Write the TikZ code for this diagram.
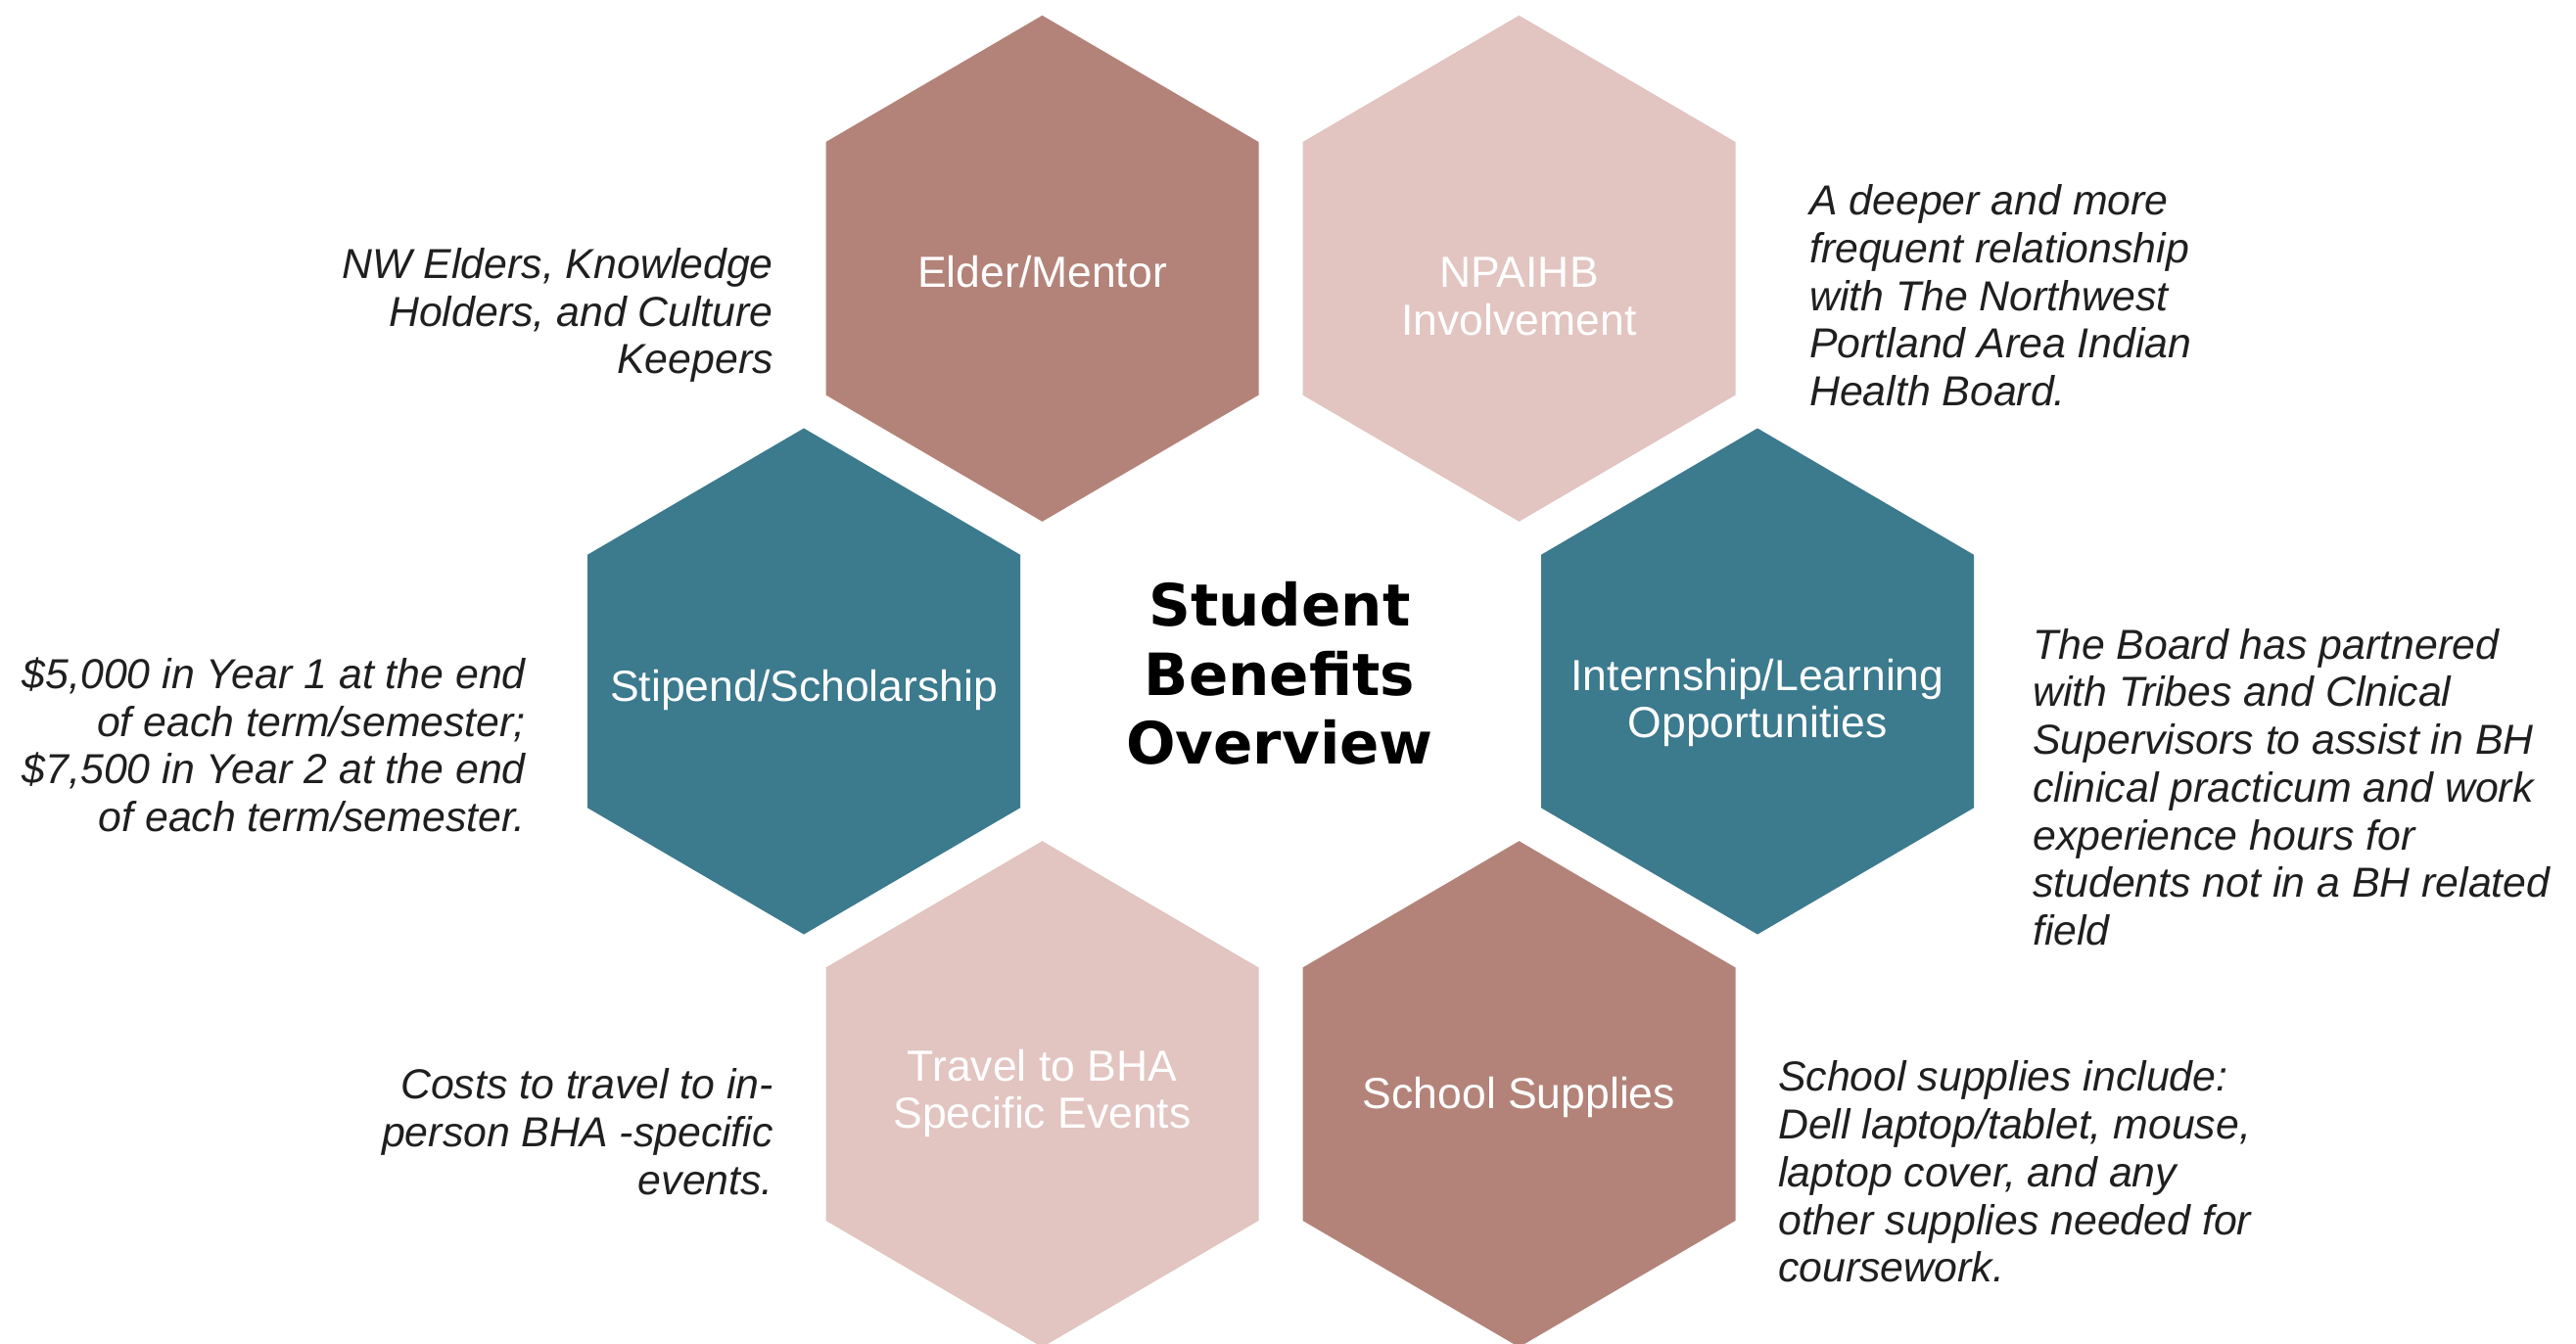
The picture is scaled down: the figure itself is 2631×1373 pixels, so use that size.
\documentclass[tikz,border=0pt]{standalone}
\usepackage{fontspec}
\setmainfont{Liberation Sans}
\newfontfamily\titlefont{DejaVu Sans}
\definecolor{hexrose}{HTML}{B38379}
\definecolor{hexblush}{HTML}{E2C4C1}
\definecolor{hexteal}{HTML}{3C7A8E}
\tikzset{
  hexlabel/.style={text=white, font=\fontsize{44.5}{48.7}\selectfont, align=center, inner sep=0pt},
  desc/.style={font=\fontsize{42.8}{48.7}\selectfont\itshape, inner sep=0pt, text=black!88},
  titletext/.style={font=\titlefont\bfseries\fontsize{59.5}{70.5}\selectfont, align=center, inner sep=0pt}
}
\begin{document}
\begin{tikzpicture}[x=1pt,y=-1pt]
\clip (0,0) rectangle (2631,1373);
\fill[white] (0,0) rectangle (2631,1373);
\foreach \cx/\cy/\col in {1064.5/274.3/hexrose, 1551.5/274.3/hexblush, 821/696/hexteal, 1795/696/hexteal, 1064.5/1117.7/hexblush, 1551.5/1117.7/hexrose}{
  \fill[\col, shift={(\cx,\cy)}] (0,-258.5) -- (-221,-129.25) -- (-221,129.25) -- (0,258.5) -- (221,129.25) -- (221,-129.25) -- cycle;
}
% hexagon labels
\node[hexlabel] (elder) at (1064.5,278) {Elder/Mentor};
\node[hexlabel] (npaihb) at (1551.5,303) {NPAIHB\\Involvement};
\node[hexlabel] (stipend) at (821,705) {Stipend/Scholarship};
\node[hexlabel] (intern) at (1795,718) {Internship/Learning\\Opportunities};
\node[hexlabel] (travel) at (1064.5,1117) {Travel to BHA\\Specific Events};
\node[hexlabel] (supplies) at (1551.5,1121) {School Supplies};
% title
\node[titletext] (title) at (1307,688) {Student\\Benefits\\Overview};
% descriptions
\node[desc, anchor=east, align=right] (elderdesc) at (790,322) {NW Elders, Knowledge\\Holders, and Culture\\Keepers};
\node[desc, anchor=west, align=left] (npaihbdesc) at (1848,302) {A deeper and more\\frequent relationship\\with The Northwest\\Portland Area Indian\\Health Board.};
\node[desc, anchor=east, align=right] (stipenddesc) at (537,761) {\$5,000 in Year 1 at the end\\of each term/semester;\\\$7,500 in Year 2 at the end\\of each term/semester.};
\node[desc, anchor=west, align=left] (interndesc) at (2076,804) {The Board has partnered\\with Tribes and Clnical\\Supervisors to assist in BH\\clinical practicum and work\\experience hours for\\students not in a BH related\\field};
\node[desc, anchor=east, align=right] (traveldesc) at (790,1156) {Costs to travel to in-\\person BHA -specific\\events.};
\node[desc, anchor=west, align=left] (suppliesdesc) at (1816,1197) {School supplies include:\\Dell laptop/tablet, mouse,\\laptop cover, and any\\other supplies needed for\\coursework.};
\end{tikzpicture}
\end{document}
